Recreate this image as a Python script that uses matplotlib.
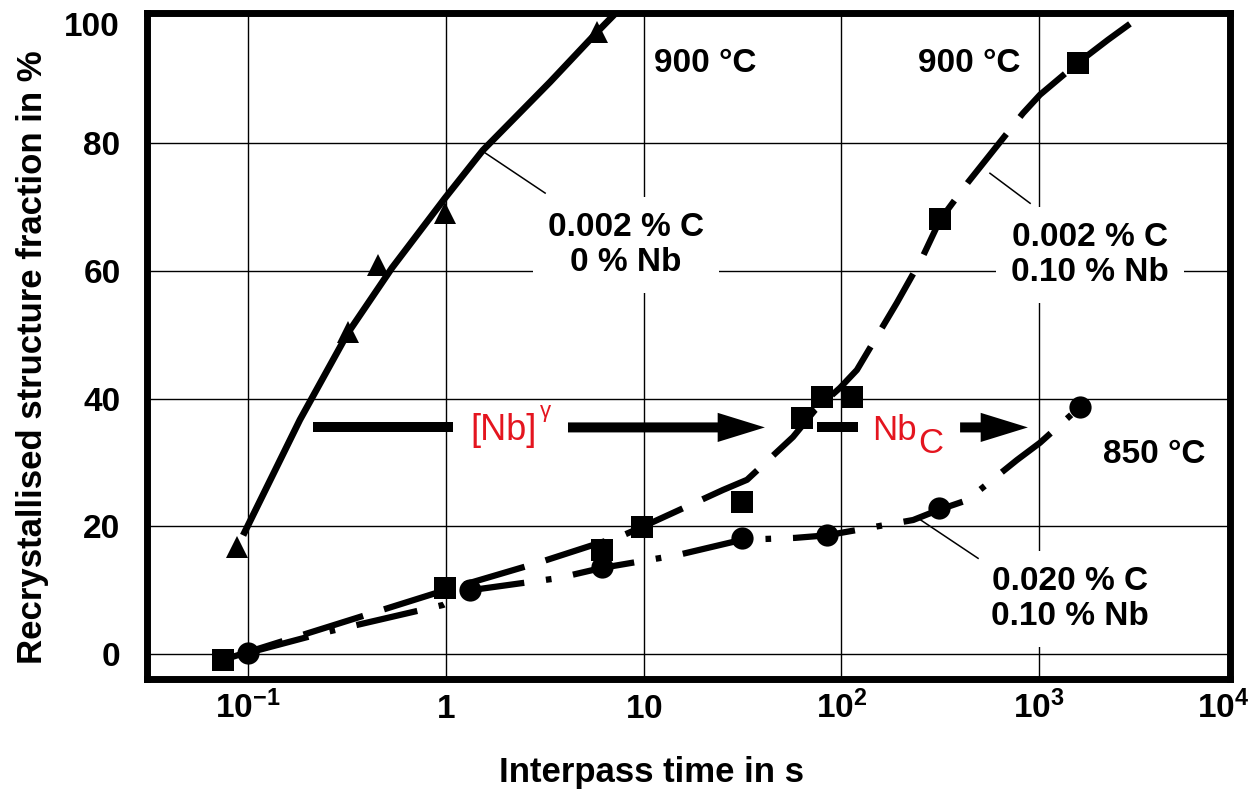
import matplotlib
matplotlib.use("Agg")
import matplotlib.pyplot as plt
from matplotlib.patches import FancyArrowPatch, ArrowStyle
from matplotlib.transforms import blended_transform_factory

plt.rcParams.update({
    "font.family": ["Liberation Sans", "DejaVu Sans"],
    "mathtext.fontset": "custom",
    "mathtext.rm": "Liberation Sans:bold",
    "mathtext.it": "Liberation Sans:bold",
    "mathtext.bf": "Liberation Sans:bold",
})

# ---- data ---------------------------------------------------------------
# 0.002 % C, 0 % Nb, 900 °C  (triangles, solid curve)
tri_t = [0.088, 0.32, 0.454, 0.99, 5.82]
tri_f = [16.8, 50.4, 60.9, 69.1, 97.4]
tri_curve_t = [0.0944, 0.183, 0.320, 0.535, 0.99, 1.54, 3.37, 5.82, 7.35]
tri_curve_f = [18.6, 36.7, 50.3, 60.5, 71.4, 78.9, 89.6, 97.4, 100.6]

# 0.002 % C, 0.10 % Nb, 900 °C  (squares, dashed curve)
sq_t = [0.0747, 0.99, 6.17, 9.83, 31.5, 63.3, 80.0, 113, 316, 1574]
sq_f = [-0.9, 10.3, 16.3, 19.9, 23.8, 37.0, 40.3, 40.3, 68.1, 92.6]
sq_curve_t = [0.0747, 0.99, 2.93, 7.87, 9.83, 25.2, 33.4, 57.0, 73.6, 98.6, 120,
              191, 256, 316, 438, 830, 1012, 1574, 2233, 2884]
sq_curve_f = [-0.9, 10.0, 14.3, 18.6, 19.9, 25.7, 27.3, 34.0, 38.2, 41.7, 44.5,
              55.0, 62.0, 68.0, 73.9, 84.7, 87.6, 92.6, 96.2, 98.7]

# 0.020 % C, 0.10 % Nb, 850 °C  (circles, dash-dot curve)
ci_t = [0.1, 1.33, 6.17, 31.5, 84.7, 312, 1611]
ci_f = [0.2, 10.0, 13.6, 18.2, 18.6, 22.9, 38.7]
ci_curve_t = [0.1, 0.245, 0.97, 1.33, 3.70, 6.17, 14.8, 31.5, 58.4, 84.7, 231,
              312, 433, 774, 1012, 1611]
ci_curve_f = [0.2, 3.4, 7.7, 10.0, 11.9, 13.5, 15.5, 17.9, 18.2, 18.6, 21.0,
              22.6, 24.1, 30.4, 33.1, 38.7]

x_ticks = [0.1, 1, 10, 100, 1000]
x_tick_labels = [r"$\mathrm{10^{-1}}$", r"$\mathrm{1}$", r"$\mathrm{10}$",
                 r"$\mathrm{10^{2}}$", r"$\mathrm{10^{3}}$"]
y_ticks = [0, 20, 40, 60, 80]

# arrows for [Nb]gamma and NbC
arrow_f = 35.5
nb_gamma_stub = [0.213, 1.088]
nb_gamma_arrow = [4.15, 41.1]
nbc_stub = [75.4, 121.6]
nbc_arrow = [399, 879]

RED = "#e4151f"

fig = plt.figure(figsize=(12.51, 7.91), dpi=100)
ax = fig.add_axes([147 / 1251, 112 / 791, 1083 / 1251, 666 / 791])
ax.set_xscale("log")
ax.set_xlim(10 ** -1.511, 10 ** 3.966)
ax.set_ylim(-3.9, 100.4)

for s in ax.spines.values():
    s.set_linewidth(5)
ax.set_axisbelow(True)
ax.grid(True, color="black", linewidth=1.0)
ax.minorticks_off()
ax.set_xticks(x_ticks, x_tick_labels)
ax.set_yticks(y_ticks)
ax.tick_params(length=0, labelsize=24)
ax.tick_params(axis="y", pad=19)
ax.tick_params(axis="x", pad=28)
for lab in ax.get_yticklabels():
    lab.set_fontweight("bold")
for lab in ax.get_xticklabels():
    lab.set_verticalalignment("baseline")

ax.text(-0.025, 98.2, "100", transform=blended_transform_factory(ax.transAxes, ax.transData),
        ha="right", va="center", fontsize=24, fontweight="bold")
# 10^4 sits just past the right frame
ax.text(1.0175, -0.0586, r"$\mathrm{10^{4}}$", transform=ax.transAxes,
        ha="right", va="baseline", fontsize=24)

ax.set_xlabel("Interpass time in s", fontsize=25, fontweight="bold")
ax.xaxis.set_label_coords(0.466, -0.115)
ax.set_ylabel("Recrystallised structure fraction in %", fontsize=25, fontweight="bold")
ax.yaxis.set_label_coords(-0.0905, 0.4835)

# curves
ax.plot(tri_curve_t, tri_curve_f, color="black", lw=4.8, solid_capstyle="butt",
        solid_joinstyle="round", zorder=3)
l_sq, = ax.plot(sq_curve_t, sq_curve_f, color="black", lw=4.5, dash_capstyle="butt", zorder=3)
l_sq.set_dashes([10, 3.5])
l_ci, = ax.plot(ci_curve_t, ci_curve_f, color="black", lw=4.5, dash_capstyle="butt", zorder=3)
l_ci.set_dashes([10, 3.5, 0.9, 3.5])

# markers
ax.plot(tri_t, tri_f, "^", color="black", ms=16, mew=0, zorder=4)
ax.plot(sq_t, sq_f, "s", color="black", ms=16, mew=0, zorder=4)
ax.plot(ci_t, ci_f, "o", color="black", ms=16, mew=0, zorder=4)

# arrows
for stub in (nb_gamma_stub, nbc_stub):
    ax.plot(stub, [arrow_f, arrow_f], color="black", lw=7.2, solid_capstyle="butt", zorder=3)
for arr in (nb_gamma_arrow, nbc_arrow):
    ax.add_patch(FancyArrowPatch((arr[0], arrow_f), (arr[1], arrow_f),
                                 arrowstyle=ArrowStyle.Simple(head_length=34, head_width=21, tail_width=7.2),
                                 mutation_scale=1, shrinkA=0, shrinkB=0, fc="black", lw=0, zorder=3))

ax.text(1.33, 33.5, "[Nb]", color=RED, fontsize=26, ha="left", va="baseline")
ax.text(3.0, 38.0, "γ", color=RED, fontsize=16, ha="left", va="center")
ax.text(143, 33.5, "Nb", color=RED, fontsize=25, ha="left", va="baseline")
ax.text(244, 31.5, "C", color=RED, fontsize=25, ha="left", va="baseline")

# temperature labels
ax.text(11.3, 91.2, "900 °C", fontsize=24, fontweight="bold", ha="left", va="baseline")
ax.text(244, 91.2, "900 °C", fontsize=24, fontweight="bold", ha="left", va="baseline")
ax.text(2109, 29.9, "850 °C", fontsize=24, fontweight="bold", ha="left", va="baseline")

# composition labels with leader lines
box = dict(boxstyle="square,pad=0.45", fc="white", ec="none")
ax.text(8.15, 64.1, "0.002 % C\n0 % Nb", fontsize=24, fontweight="bold", ha="center",
        va="center", multialignment="center", linespacing=1.15, bbox=box, zorder=2)
ax.text(1811, 62.5, "0.002 % C\n0.10 % Nb", fontsize=24, fontweight="bold", ha="center",
        va="center", multialignment="center", linespacing=1.15, bbox=box, zorder=2)
ax.text(1434, 8.6, "0.020 % C\n0.10 % Nb", fontsize=24, fontweight="bold", ha="center",
        va="center", multialignment="center", linespacing=1.15, bbox=box, zorder=2)
ax.plot([1.58, 3.18], [78.5, 72.2], color="black", lw=1.1, zorder=2.5)
ax.plot([565, 902], [75.3, 70.6], color="black", lw=1.1, zorder=2.5)
ax.plot([244, 492], [21.3, 15.0], color="black", lw=1.1, zorder=2.5)

fig.savefig("out.png", dpi=100)
